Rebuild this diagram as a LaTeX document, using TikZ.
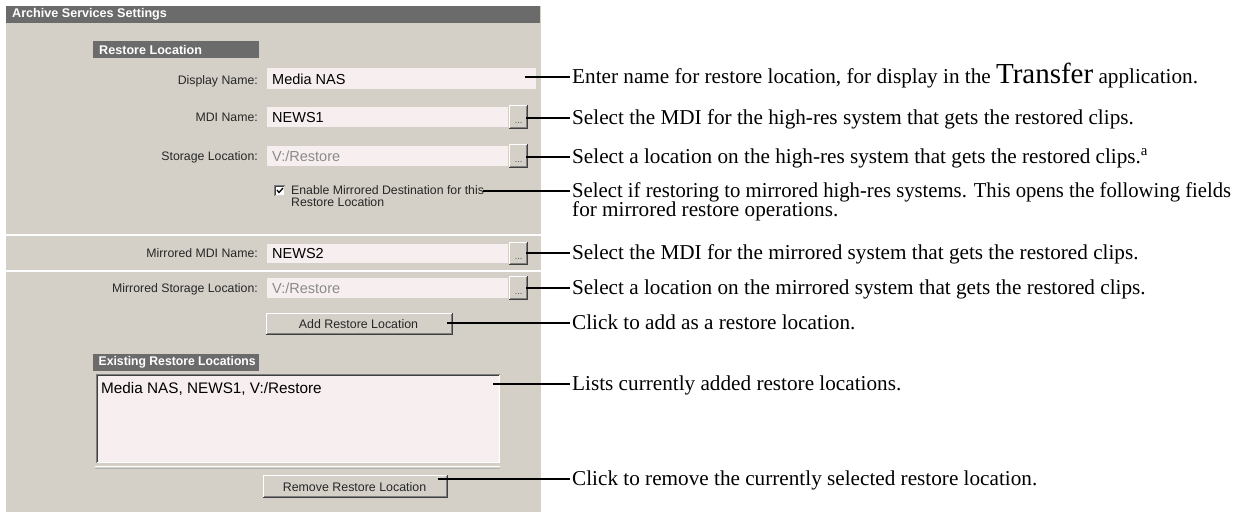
\documentclass[tikz,border=0pt]{standalone}
\usepackage{fontspec}
\usepackage{graphicx}
\setmainfont{Liberation Serif}
\newfontfamily\uifont{Liberation Sans}
\definecolor{panelgray}{HTML}{D4D0C8}
\definecolor{hdrgray}{HTML}{6B6B6B}
\definecolor{fieldpink}{HTML}{F7EFEF}
\definecolor{shadowgray}{HTML}{808080}
\definecolor{darkedge}{HTML}{404040}
\definecolor{dimtext}{HTML}{8A8A8A}
\newcommand\wbtn[4]{%
  \fill[panelgray] (#1,#2) rectangle (#3,#4);
  \draw[white,line width=1pt] (#1+0.5,#4-1) -- (#1+0.5,#2+0.5) -- (#3-1,#2+0.5);
  \draw[shadowgray,line width=1pt] (#1+1,#4-1.5) -- (#3-1.5,#4-1.5) -- (#3-1.5,#2+1);
  \draw[darkedge,line width=1pt] (#1,#4-0.5) -- (#3-0.5,#4-0.5) -- (#3-0.5,#2);
}
\newcommand\fitto[2]{\sbox0{#2}\pgfmathsetmacro\fitsc{#1/\wd0}\scalebox{\fitsc}[1]{\usebox0}}
\tikzset{
  hdrtext/.style={anchor=west, text=white, font=\uifont\bfseries\fontsize{12.6}{12.6}\selectfont, inner sep=0pt},
  lbl/.style={anchor=base east, font=\uifont\fontsize{12.3}{12.3}\selectfont, text=black!85, inner sep=0pt},
  fieldtext/.style={anchor=base west, font=\uifont\fontsize{14.5}{14.5}\selectfont, inner sep=0pt},
  btntext/.style={font=\uifont\fontsize{12.4}{12.4}\selectfont, text=black!85, inner sep=0pt},
  cbtext/.style={anchor=base west, font=\uifont\fontsize{12.3}{12.3}\selectfont, text=black!85, inner sep=0pt},
  dots/.style={font=\uifont\fontsize{9}{9}\selectfont, text=black!70, inner sep=0pt},
  ann/.style={anchor=base west, font=\fontsize{21.2}{20}\selectfont, inner sep=0pt},
  leader/.style={line width=1.3pt, black},
}
\begin{document}
\begin{tikzpicture}[x=1pt,y=-1pt]
\useasboundingbox (0,0) rectangle (1236,512);
\fill[white] (0,0) rectangle (1236,512);
% panel
\fill[panelgray] (6,6) rectangle (541,512);
\fill[hdrgray] (6,6) rectangle (540,22.5);
\node[hdrtext] (title) at (12,14.5) {Archive Services Settings};
\fill[hdrgray] (93,40.5) rectangle (259,58);
\node[hdrtext] (rlhdr) at (99,49.5) {Restore Location};
% separators
\draw[white,line width=1.5pt] (6,235) -- (541,235);
\draw[white,line width=1.5pt] (6,271) -- (541,271);

% Display name
\node[lbl] (dnlbl) at (258,84) {Display Name:};
\fill[fieldpink] (267,68) rectangle (536,89);
\node[fieldtext] (dnval) at (272,84) {Media NAS};
\coordinate (l1) at (525,77);

% MDI name
\node[lbl] (mdilbl) at (258,121) {MDI Name:};
\fill[fieldpink] (267,107) rectangle (508,127);
\node[fieldtext] (mdival) at (272,122.5) {NEWS1};
\wbtn{509}{105}{528}{129}
\node[dots] (mdibtn) at (518.5,123) {...};
\coordinate (l2) at (526,118);

% Storage location
\node[lbl] (stlbl) at (258,160) {Storage Location:};
\fill[fieldpink] (267,146) rectangle (508,166);
\node[fieldtext,text=dimtext] (stval) at (272,161.5) {V:/Restore};
\wbtn{509}{144}{528}{168}
\node[dots] (stbtn) at (518.5,162) {...};
\coordinate (l3) at (526,157);

% Checkbox
\fill[white] (274,185) rectangle (285,196);
\draw[shadowgray,line width=1pt] (274.5,196) -- (274.5,185.5) -- (285,185.5);
\draw[darkedge,line width=1pt] (275.5,195) -- (275.5,186.5) -- (284,186.5);
\draw[panelgray,line width=1pt] (275,195.5) -- (284.5,195.5) -- (284.5,186);
\draw[black,line width=1.3pt] (277,190) -- (279,192.5) -- (283,188);
\node[cbtext] (cb1) at (291,194.5) {Enable Mirrored Destination for this};
\node[cbtext] (cb2) at (291,206.5) {Restore Location};
\coordinate (l4) at (483,191);

% Mirrored MDI
\node[lbl] (mmlbl) at (258,257) {Mirrored MDI Name:};
\fill[fieldpink] (267,244) rectangle (508,263);
\node[fieldtext] (mmval) at (272,258.5) {NEWS2};
\wbtn{509}{242}{528}{265}
\node[dots] (mmbtn) at (518.5,259) {...};
\coordinate (l5) at (526,253);

% Mirrored storage
\node[lbl] (mslbl) at (258,292) {Mirrored Storage Location:};
\fill[fieldpink] (267,278) rectangle (508,298);
\node[fieldtext,text=dimtext] (msval) at (272,293.5) {V:/Restore};
\wbtn{509}{276}{528}{300}
\node[dots] (msbtn) at (518.5,294) {...};
\coordinate (l6) at (526,288);

% Add button
\wbtn{266}{313}{453}{335}
\node[btntext] (addbtn) at (358.5,324) {Add Restore Location};
\coordinate (l7) at (447,323);

% Existing header
\fill[hdrgray] (93,354) rectangle (259,370.5);
\node[hdrtext] (exhdr) at (98.5,362.5) {\fitto{157}{Existing Restore Locations}};

% List
\fill[fieldpink] (96,374) rectangle (500,463);
\draw[shadowgray,line width=1pt] (96.5,463) -- (96.5,374.5) -- (500,374.5);
\draw[darkedge,line width=1pt] (97.5,462) -- (97.5,375.5) -- (499,375.5);
\draw[white,line width=1pt] (97,462.5) -- (499.5,462.5) -- (499.5,375);
\draw[white,line width=1pt] (95,466.5) -- (500,466.5);
\draw[shadowgray!60,line width=0.6pt] (95,468) -- (500,468);
\node[anchor=base west, font=\uifont\fontsize{15.3}{15.3}\selectfont, inner sep=0pt] (listval) at (101,393) {Media NAS, NEWS1, V:/Restore};
\coordinate (l8) at (493,384);

% Remove button
\wbtn{263}{475}{448}{498}
\node[btntext] (rmbtn) at (354.5,487) {Remove Restore Location};
\coordinate (l9) at (438,479);

% annotations
\node[ann] (a1) at (572,83) {Enter name for restore location, for display in the {\fontsize{29}{29}\selectfont Transfer} application.};
\node[ann] (a2) at (572,124) {Select the MDI for the high-res system that gets the restored clips.};
\node[ann] (a3) at (572,163) {Select a location on the high-res system that gets the restored clips.\textsuperscript{a}};
\node[ann] (a4) at (572,197) {\fitto{659}{Select if restoring to mirrored high-res systems. This opens the following fields}};
\node[ann] (a4b) at (572,216) {for mirrored restore operations.};
\node[ann] (a5) at (572,259) {Select the MDI for the mirrored system that gets the restored clips.};
\node[ann] (a6) at (572,294) {Select a location on the mirrored system that gets the restored clips.};
\node[ann] (a7) at (572,329) {Click to add as a restore location.};
\node[ann] (a8) at (572,390) {Lists currently added restore locations.};
\node[ann] (a9) at (572,485) {Click to remove the currently selected restore location.};

% leaders
\draw[leader] (l1) -- ([xshift=-2pt]l1 -| a1.west);
\draw[leader] (l2) -- ([xshift=-2pt]l2 -| a2.west);
\draw[leader] (l3) -- ([xshift=-2pt]l3 -| a3.west);
\draw[leader] (l4) -- ([xshift=-2pt]l4 -| a4.west);
\draw[leader] (l5) -- ([xshift=-2pt]l5 -| a5.west);
\draw[leader] (l6) -- ([xshift=-2pt]l6 -| a6.west);
\draw[leader] (l7) -- ([xshift=-2pt]l7 -| a7.west);
\draw[leader] (l8) -- ([xshift=-2pt]l8 -| a8.west);
\draw[leader] (l9) -- ([xshift=-2pt]l9 -| a9.west);
\end{tikzpicture}
\end{document}
